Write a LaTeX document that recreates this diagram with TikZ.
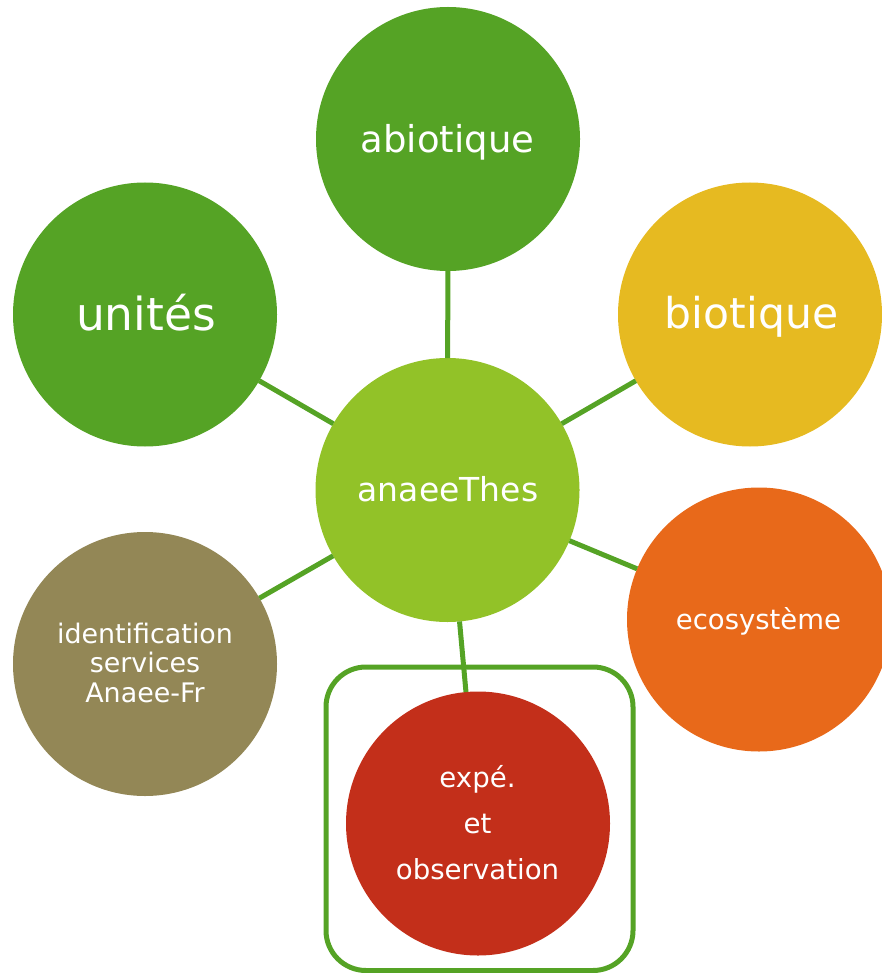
\documentclass[tikz,border=0pt]{standalone}
\usepackage{fontspec}
\setmainfont{DejaVu Sans}
\definecolor{dgreen}{RGB}{85,163,37}
\definecolor{lgreen}{RGB}{146,194,40}
\definecolor{cyellow}{RGB}{230,186,33}
\definecolor{corange}{RGB}{232,105,26}
\definecolor{colive}{RGB}{147,135,86}
\definecolor{cred}{RGB}{195,47,26}
\tikzset{
  bubble/.style={circle, minimum size=264pt, inner sep=0pt, outer sep=0pt},
  link/.style={draw=dgreen, line width=5pt},
  lbl/.style={text=white, inner sep=0pt, anchor=base, align=center},
}
\begin{document}
\begin{tikzpicture}[x=1pt,y=-1pt]
\useasboundingbox (0,0) rectangle (882,973);
% frame round the lower bubble
\draw[dgreen, line width=5pt, rounded corners=40pt] (326,667) rectangle (633,970.5);
% bubbles
\node[bubble, fill=dgreen]  (abio)  at (448,139)   {};
\node[bubble, fill=dgreen]  (unit)  at (145,314.5) {};
\node[bubble, fill=cyellow] (bio)   at (750,314.5) {};
\node[bubble, fill=lgreen]  (hub)   at (447.5,490) {};
\node[bubble, fill=corange] (eco)   at (759,619.5) {};
\node[bubble, fill=colive]  (ident) at (145,664)   {};
\node[bubble, fill=cred]    (expe)  at (478,823.5) {};
% connectors
\draw[link] (hub) -- (abio);
\draw[link] (hub) -- (unit);
\draw[link] (hub) -- (bio);
\draw[link] (hub) -- (eco);
\draw[link] (hub) -- (ident);
\draw[link] (hub) -- (expe);
% labels
\node[lbl, font=\fontsize{37}{40}\selectfont] (abio-t) at (447.5,153) {abiotique};
\node[lbl, font=\fontsize{42.5}{48}\selectfont] (bio-t) at (751.5,328) {biotique};
\node[lbl, font=\fontsize{45.5}{50}\selectfont] (unit-t) at (146,330) {unités};
\node[lbl, font=\fontsize{33}{38}\selectfont] (hub-t) at (448,501) {anaeeThes};
\node[lbl, font=\fontsize{27.5}{32}\selectfont] (eco-t) at (758.5,629) {ecosystème};
\node[lbl, font=\fontsize{26.9}{29.5}\selectfont] (ident-t) at (145,702) {identification\\services\\Anaee-Fr};
\node[lbl, font=\fontsize{27.6}{46}\selectfont] (expe-t) at (477.5,879) {expé.\\et\\observation};
\end{tikzpicture}
\end{document}
